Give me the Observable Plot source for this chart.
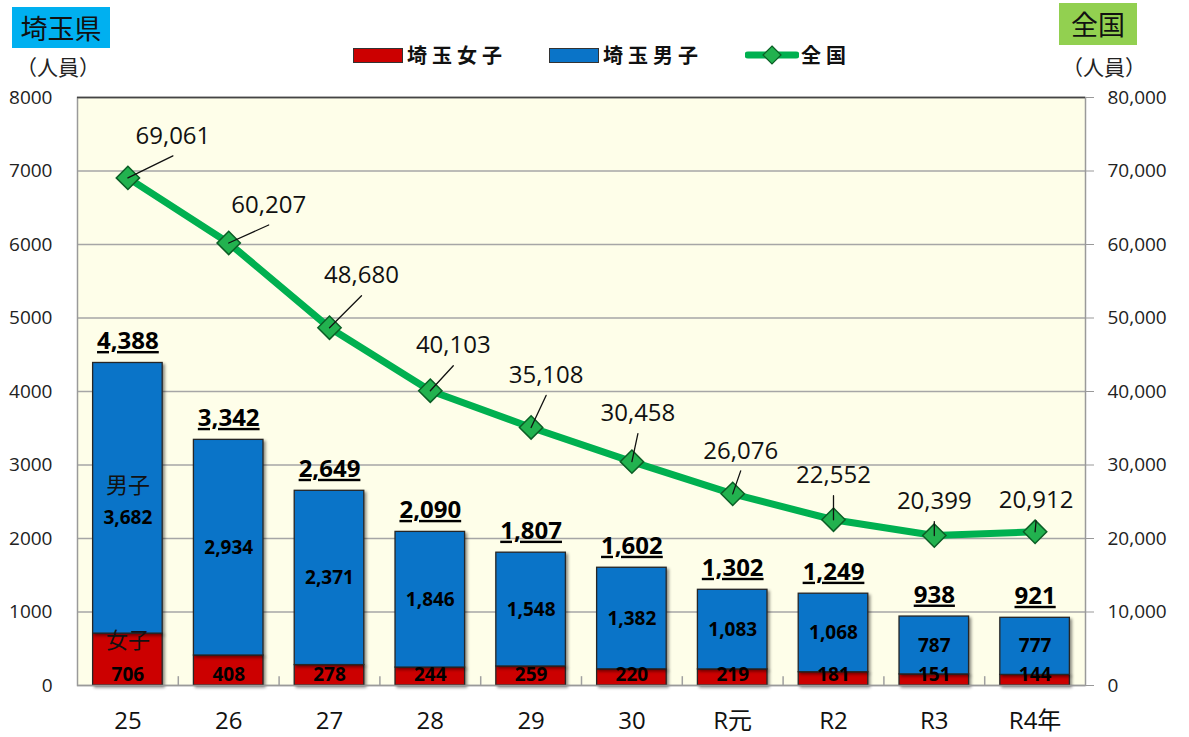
<!DOCTYPE html>
<html><head><meta charset="utf-8">
<script src="https://cdn.jsdelivr.net/npm/d3@7"></script>
<script src="https://cdn.jsdelivr.net/npm/@observablehq/plot@0.6"></script>
<style>
body{margin:0;background:#fff;}
#wrap{position:relative;width:1189px;height:737px;overflow:hidden;font-family:"Open Sans","Noto Sans CJK JP",sans-serif;}
#chart{position:absolute;left:0;top:0;}
.abs{position:absolute;white-space:nowrap;}
.box{font-family:"Noto Sans CJK JP",sans-serif;font-size:27px;text-align:center;color:#111;}
.unit{font-family:"Noto Sans CJK JP",sans-serif;font-size:21px;line-height:22px;color:#222;}
.leg{font-family:"Noto Sans CJK JP",sans-serif;font-size:20px;font-weight:700;letter-spacing:5px;color:#111;line-height:22px;}
.sw{position:absolute;width:48px;height:13px;border:1px solid #333;}
.totals text{text-decoration:underline;text-decoration-thickness:2px;}
.bars rect{filter:drop-shadow(2px 2px 1.5px rgba(0,0,0,0.45));}
</style></head><body>
<div id="wrap">
  <div id="chart"></div>
  <div class="abs box" style="left:12px;top:7px;width:98px;height:41px;line-height:41px;background:#00b0f0;">埼玉県</div>
  <div class="abs unit" style="left:16px;top:55px;">（人員）</div>
  <div class="abs box" style="left:1059px;top:3px;width:78px;height:42px;line-height:42px;background:#92d050;">全国</div>
  <div class="abs unit" style="left:1062px;top:55px;">（人員）</div>
  <div id="legend"></div>
</div>
<script>
const categories = ["25","26","27","28","29","30","R元","R2","R3","R4年"];
const saitamaGirls = [706,408,278,244,259,220,219,181,151,144];
const saitamaBoys = [3682,2934,2371,1846,1548,1382,1083,1068,787,777];
const saitamaTotal = [4388,3342,2649,2090,1807,1602,1302,1249,938,921];
const national = [69061,60207,48680,40103,35108,30458,26076,22552,20399,20912];
const leftTicks = [0,1000,2000,3000,4000,5000,6000,7000,8000];
const seriesNames = ["埼玉女子","埼玉男子","全国"];
const seriesColors = ["#cc0000","#0a74c8","#00b050"];
const genderTags = ["女子","男子"];

// layout: pixel nudges of the national labels relative to their points
const labelNudge = [[45,-42],[40,-38],[32,-52],[23,-45],[15,-52],[6,-48],[8,-43],[0,-44],[0,-34],[1,-31]];

const fmt = d3.format(",");
const idx = d3.range(categories.length);
const stacked = categories.flatMap((c,i)=>[
  {cat:c, series:seriesNames[0], value:saitamaGirls[i]},
  {cat:c, series:seriesNames[1], value:saitamaBoys[i]}
]);
const X = i => categories[i];
const NY = i => national[i]/10;
const BOYMID = i => saitamaGirls[i]+saitamaBoys[i]/2;
const step = (1189-77-104)/categories.length;

const plot = Plot.plot({
  width:1189, height:737,
  marginLeft:77, marginRight:104, marginTop:97, marginBottom:52,
  style:{background:"transparent", fontFamily:'"Open Sans","Noto Sans CJK JP",sans-serif', overflow:"visible"},
  x:{domain:categories, paddingInner:0.31, paddingOuter:0.155, round:false, label:null},
  y:{domain:[0,8000], label:null},
  color:{domain:seriesNames.slice(0,2), range:seriesColors.slice(0,2)},
  length:{type:"identity"},
  marks:[
    Plot.frame({fill:"#fefee9"}),
    Plot.gridY(leftTicks, {stroke:"#a6a6a6", strokeOpacity:1, strokeWidth:1.5}),
    Plot.axisY(leftTicks, {anchor:"left", tickSize:0, tickPadding:25, fontSize:19, fill:"#222", label:null, tickFormat:d=>String(d)}),
    Plot.axisY(leftTicks, {anchor:"right", tickSize:8, tickPadding:14, stroke:"#999", fill:"#222", fontSize:19, label:null, tickFormat:d=>fmt(d*10)}),
    Plot.axisX({tickSize:0, tickPadding:26, fontSize:24, fill:"#111", label:null}),
    Plot.ruleX(categories.slice(0,-1), {dx:step/2, y1:0, y2:120, stroke:"#a0a0a0", strokeWidth:1.5}),
    Plot.barY(stacked, {x:"cat", y:"value", fill:"series", stroke:"#262626", strokeWidth:1.3, className:"bars"}),
    Plot.frame({stroke:"#9a9a9a", strokeWidth:1.5}),
    Plot.ruleY([8000], {stroke:"#444", strokeWidth:1.5}),
    Plot.line(idx, {x:X, y:NY, stroke:seriesColors[2], strokeWidth:7, strokeLinejoin:"round"}),
    Plot.dot(idx, {x:X, y:NY, symbol:"diamond2", r:10.5, fill:"#22b24f", stroke:"#0b5e26", strokeWidth:1.5}),
    Plot.vector(idx, {x:X, y:NY, anchor:"start", r:0, stroke:"#111", strokeWidth:1.3,
      length:i=>Math.hypot(labelNudge[i][0], labelNudge[i][1]+20),
      rotate:i=>Math.atan2(labelNudge[i][0], -(labelNudge[i][1]+20))*180/Math.PI}),
    ...idx.map(i=>Plot.text([i], {x:X, y:NY, text:j=>fmt(national[j]), dx:labelNudge[i][0], dy:labelNudge[i][1], fontSize:24, fill:"#111"})),
    Plot.text(idx, {x:X, y:i=>saitamaTotal[i], text:i=>fmt(saitamaTotal[i]), lineAnchor:"bottom", dy:-14, fontSize:24, fontWeight:700, fill:"#000", className:"totals"}),
    // boys values (first bar shares its segment with the 男子 tag)
    Plot.text([0], {x:X, y:BOYMID, text:i=>fmt(saitamaBoys[i]), dy:20, fontSize:19, fontWeight:700, fill:"#000"}),
    Plot.text(idx.slice(1), {x:X, y:BOYMID, text:i=>fmt(saitamaBoys[i]), fontSize:19, fontWeight:700, fill:"#000"}),
    Plot.text([0], {x:X, y:BOYMID, text:()=>genderTags[1], dy:-12, fontSize:22, fill:"#111", fontFamily:"Noto Sans CJK JP"}),
    // girls values
    Plot.text(idx, {x:X, y:()=>0, text:i=>fmt(saitamaGirls[i]), lineAnchor:"bottom", dy:-5, fontSize:19, fontWeight:700, fill:"#000"}),
    Plot.text([0], {x:X, y:()=>0, text:()=>genderTags[0], dy:-45, fontSize:22, fill:"#111", fontFamily:"Noto Sans CJK JP"})
  ]
});
document.getElementById("chart").appendChild(plot);

// legend
const legend = document.getElementById("legend");
const legendLayout = [{sw:353, tx:407},{sw:549, tx:603},{sw:745, tx:801}];
seriesNames.forEach((name,i)=>{
  const L = legendLayout[i];
  if (i<2){
    const s = document.createElement("div");
    s.className="sw"; s.style.left=L.sw+"px"; s.style.top="48px"; s.style.background=seriesColors[i];
    legend.appendChild(s);
  } else {
    const s = document.createElementNS("http://www.w3.org/2000/svg","svg");
    s.setAttribute("width","54"); s.setAttribute("height","24");
    s.style.position="absolute"; s.style.left=L.sw+"px"; s.style.top="43px";
    s.innerHTML = `<line x1="3" y1="12" x2="51" y2="12" stroke="${seriesColors[2]}" stroke-width="7" stroke-linecap="round"/><path d="M27,3L36,12L27,21L18,12Z" fill="#22b24f" stroke="#0b5e26" stroke-width="1.2"/>`;
    legend.appendChild(s);
  }
  const t = document.createElement("div");
  t.className="abs leg"; t.style.left=L.tx+"px"; t.style.top="44px"; t.textContent=name;
  legend.appendChild(t);
});
</script>
</body></html>
